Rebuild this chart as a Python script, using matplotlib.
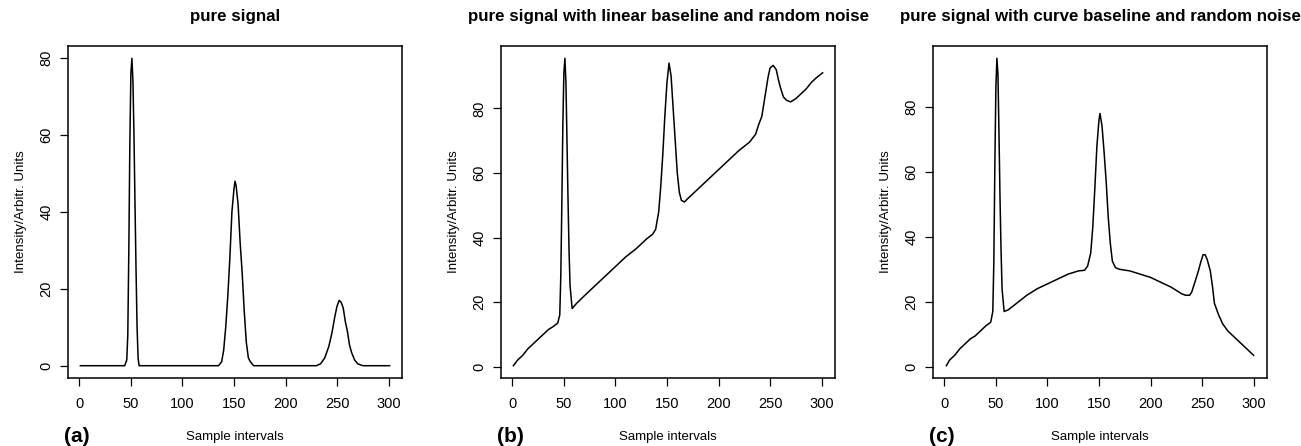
import numpy as np
import matplotlib.pyplot as plt

plt.rcParams['font.family'] = ['Liberation Sans', 'DejaVu Sans']

# (a) pure signal
xa = [1, 44, 46, 47, 48, 49, 50, 51, 52, 53, 54, 55, 56, 57, 58,
      135, 138, 140, 142, 144, 146, 148, 150, 151, 152, 154, 156, 158, 160, 162, 164, 166, 169,
      230, 234, 238, 242, 245, 248, 250, 252, 254, 256, 258, 260, 262, 264, 267, 270, 275, 301]
ya = [0, 0, 1.5, 8, 30, 58, 76, 80, 74, 60, 42, 25, 10, 2, 0,
      0, 1, 4, 10, 18, 28, 40, 46, 48, 47, 42, 32, 24, 14, 6, 2, 1, 0,
      0, 0.5, 2, 5, 8.5, 13, 15.5, 17, 16.5, 15, 11.5, 9, 5.5, 3.5, 1.5, 0.5, 0, 0]

# (b) linear baseline + noise
xb = [1, 5, 10, 15, 20, 25, 30, 35, 40, 44, 46, 47, 48, 49, 50, 51, 52, 53, 54, 55, 56, 58,
      62, 70, 80, 90, 100, 110, 120, 130, 136, 139, 142, 144, 146, 148, 150, 152, 154, 156, 158,
      160, 162, 164, 167, 170, 180, 190, 200, 210, 220, 230, 236, 239, 242, 245, 248, 250, 253,
      256, 258, 260, 263, 266, 270, 275, 280, 285, 290, 295, 301]
yb = [0.3, 2, 3.5, 5.5, 7, 8.5, 10, 11.5, 12.5, 13.5, 16, 28, 50, 75, 91, 95.5, 88, 70, 52, 36, 25, 18,
      19.5, 22, 25, 28, 31, 34, 36.5, 39.5, 41, 42.5, 48, 56, 66, 78, 88, 94, 90, 80, 70,
      60, 54, 51.5, 51, 52, 55, 58, 61, 64, 67, 69.5, 72, 75, 77.5, 83.5, 89.5, 92.5, 93.3,
      92, 89, 86.5, 83.5, 82.5, 82, 83, 84.5, 86, 88, 89.5, 91]

# (c) curved baseline + noise
xc = [2, 5, 10, 15, 20, 25, 30, 35, 40, 45, 47, 48, 49, 50, 51, 52, 53, 54, 55, 56, 58,
      62, 70, 80, 90, 100, 110, 120, 130, 136, 139, 142, 144, 146, 148, 150, 151, 153, 155, 157,
      159, 161, 163, 166, 170, 180, 190, 200, 210, 220, 230, 234, 238, 240, 243, 246, 249, 251,
      253, 255, 258, 260, 262, 266, 270, 275, 280, 285, 290, 295, 300]
yc = [0.3, 2, 3.5, 5.5, 7, 8.5, 9.5, 11, 12.5, 13.7, 17, 32, 62, 86, 95, 90, 72, 52, 36, 24, 17,
      17.5, 19.5, 22, 24, 25.5, 27, 28.5, 29.5, 29.7, 31, 35, 43, 55, 68, 76, 78, 74, 66, 57,
      46, 38, 32.5, 30.5, 30, 29.5, 28.5, 27.5, 26, 24.5, 22.5, 22, 22, 23, 26, 29, 32.5, 34.5,
      34.5, 33, 29.5, 25, 19.5, 16, 13.2, 11, 9.5, 8, 6.5, 5, 3.5]

titles = ['pure signal',
          'pure signal with linear baseline and random noise',
          'pure signal with curve baseline and random noise']
letters = ['(a)', '(b)', '(c)']
series = [(xa, ya), (xb, yb), (xc, yc)]
lefts = [68, 501, 933]

W, H = 1301, 446
fig = plt.figure(figsize=(W / 100, H / 100), dpi=100)

for i in range(3):
    l = lefts[i]
    ax = fig.add_axes([l / W, (H - 378) / H, 334 / W, 332 / H])
    x, y = series[i]
    ax.plot(x, y, color='black', lw=1.1)
    ymax = max(y)
    ymin = min(y)
    pad = (ymax - ymin) * 0.04
    ax.set_ylim(ymin - pad, ymax + pad)
    ax.set_xlim(1 - 12, 301 + 12)
    ax.set_xticks([0, 50, 100, 150, 200, 250, 300])
    ax.set_yticks([0, 20, 40, 60, 80])
    ax.tick_params(direction='out', length=5.5, width=0.9, labelsize=10.5)
    ax.tick_params(axis='x', pad=8)
    ax.tick_params(axis='y', pad=5)
    for t in ax.get_yticklabels():
        t.set_rotation(90)
        t.set_va('center')
    for s in ax.spines.values():
        s.set_linewidth(1.1)
    cx = l + 167
    fig.text(cx / W, 1 - 17 / H, titles[i], fontsize=12.2, fontweight='bold',
             ha='center', va='center')
    ax.set_ylabel('Intensity/Arbitr. Units', fontsize=9.6, labelpad=9)
    fig.text(cx / W, 1 - 437 / H, 'Sample intervals', fontsize=9.5,
             ha='center', va='center')
    fig.text((l - 4) / W, 1 - 437 / H, letters[i], fontsize=15,
             fontweight='bold', ha='left', va='center')

fig.savefig('out.png', dpi=100)
